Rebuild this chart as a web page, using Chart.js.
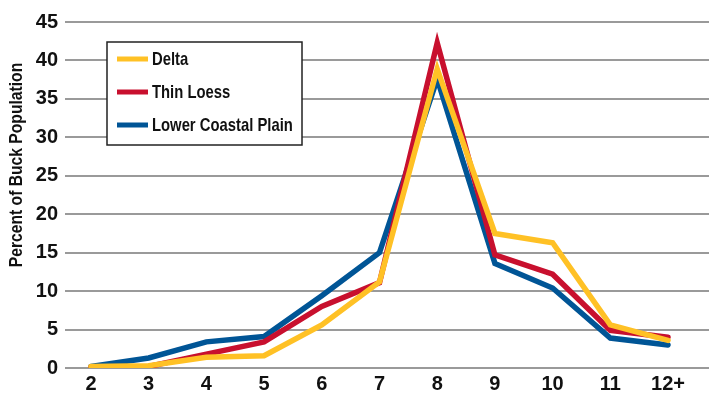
<!DOCTYPE html>
<html>
<head>
<meta charset="utf-8">
<script src="https://cdn.jsdelivr.net/npm/chart.js@4.4.1/dist/chart.umd.min.js"></script>
<style>
  html, body { margin: 0; padding: 0; background: #fff; }
  #wrap { position: relative; width: 709px; height: 395px; }
</style>
</head>
<body>
<div id="wrap"><canvas id="ageChart"></canvas></div>
<script>
const ages = [2, 3, 4, 5, 6, 7, 8, 9, 10, 11, 12];
const ageLabels = ["2", "3", "4", "5", "6", "7", "8", "9", "10", "11", "12+"];
const delta = [0.2, 0.3, 1.4, 1.6, 5.6, 11.2, 38.9, 17.5, 16.3, 5.6, 3.6];
const thinLoess = [0.1, 0.2, 1.8, 3.4, 8.0, 11.1, 42.3, 14.7, 12.2, 4.9, 4.0];
const lowerCoastalPlain = [0.2, 1.3, 3.4, 4.1, 9.4, 15.0, 37.6, 13.6, 10.4, 3.9, 3.0];
const yTicks = [0, 5, 10, 15, 20, 25, 30, 35, 40, 45];
const yTitle = "Percent of Buck Population";

const FONT = "'Liberation Sans', Arial, sans-serif";

function toPoints(values) {
  return values.map((v, i) => ({ x: ages[i], y: v }));
}

// legend drawn as a boxed panel inside the plot, plus the y title
// (the original face is condensed, so text is squeezed horizontally)
const boxedLegend = {
  id: "boxedLegend",
  afterDraw(chart) {
    const ctx = chart.ctx;
    const x = 107, y = 42, w = 195, h = 103;
    ctx.save();
    ctx.fillStyle = "#fff";
    ctx.fillRect(x, y, w, h);
    ctx.strokeStyle = "#222";
    ctx.lineWidth = 1.5;
    ctx.strokeRect(x, y, w, h);
    ctx.font = "bold 19px " + FONT;
    ctx.textBaseline = "middle";
    chart.data.datasets.forEach((ds, i) => {
      const rowY = 59 + i * 33;
      ctx.strokeStyle = ds.borderColor;
      ctx.lineWidth = 5;
      ctx.beginPath();
      ctx.moveTo(117, rowY);
      ctx.lineTo(148, rowY);
      ctx.stroke();
      ctx.save();
      ctx.translate(152, rowY + 1);
      ctx.scale(0.78, 1);
      ctx.fillStyle = "#111";
      ctx.fillText(ds.label, 0, 0);
      ctx.restore();
    });

    ctx.translate(17, 165);
    ctx.rotate(-Math.PI / 2);
    ctx.scale(0.87, 1);
    ctx.font = "bold 18px " + FONT;
    ctx.textAlign = "center";
    ctx.fillStyle = "#111";
    ctx.fillText(yTitle, 0, 0);
    ctx.restore();
  },
};

const ctx = document.getElementById("ageChart").getContext("2d");

new Chart(ctx, {
  type: "line",
  data: {
    datasets: [
      {
        label: "Delta",
        data: toPoints(delta),
        borderColor: "#FFC125",
        order: 1,
      },
      {
        label: "Thin Loess",
        data: toPoints(thinLoess),
        borderColor: "#C8102E",
        order: 2,
      },
      {
        label: "Lower Coastal Plain",
        data: toPoints(lowerCoastalPlain),
        borderColor: "#005596",
        order: 3,
      },
    ],
  },
  options: {
    responsive: true,
    maintainAspectRatio: false,
    animation: false,
    layout: { padding: { top: 22, right: 0, bottom: 0, left: 0 } },
    elements: {
      line: { borderWidth: 5.5, tension: 0, borderCapStyle: "round", borderJoinStyle: "miter" },
      point: { radius: 0, hoverRadius: 0 },
    },
    scales: {
      x: {
        type: "linear",
        min: 1.55,
        max: 12.71,
        afterBuildTicks: (scale) => {
          scale.ticks = ages.map((v) => ({ value: v }));
        },
        afterFit: (scale) => {
          scale.height = 27;
        },
        grid: { display: false, drawTicks: false },
        border: { display: false },
        ticks: {
          padding: 4,
          color: "#111",
          font: { family: FONT, size: 20, weight: "bold" },
          callback: (value) => ageLabels[ages.indexOf(value)],
        },
      },
      y: {
        min: 0,
        max: 45,
        afterBuildTicks: (scale) => {
          scale.ticks = yTicks.map((v) => ({ value: v }));
        },
        afterFit: (scale) => {
          scale.width = 65;
        },
        grid: { color: "#9a9a9a", lineWidth: 2, drawTicks: false },
        border: { display: false },
        ticks: {
          padding: 7,
          color: "#111",
          font: { family: FONT, size: 20, weight: "bold" },
        },
      },
    },
    plugins: {
      legend: { display: false },
      tooltip: { enabled: false },
    },
  },
  plugins: [boxedLegend],
});
</script>
</body>
</html>
